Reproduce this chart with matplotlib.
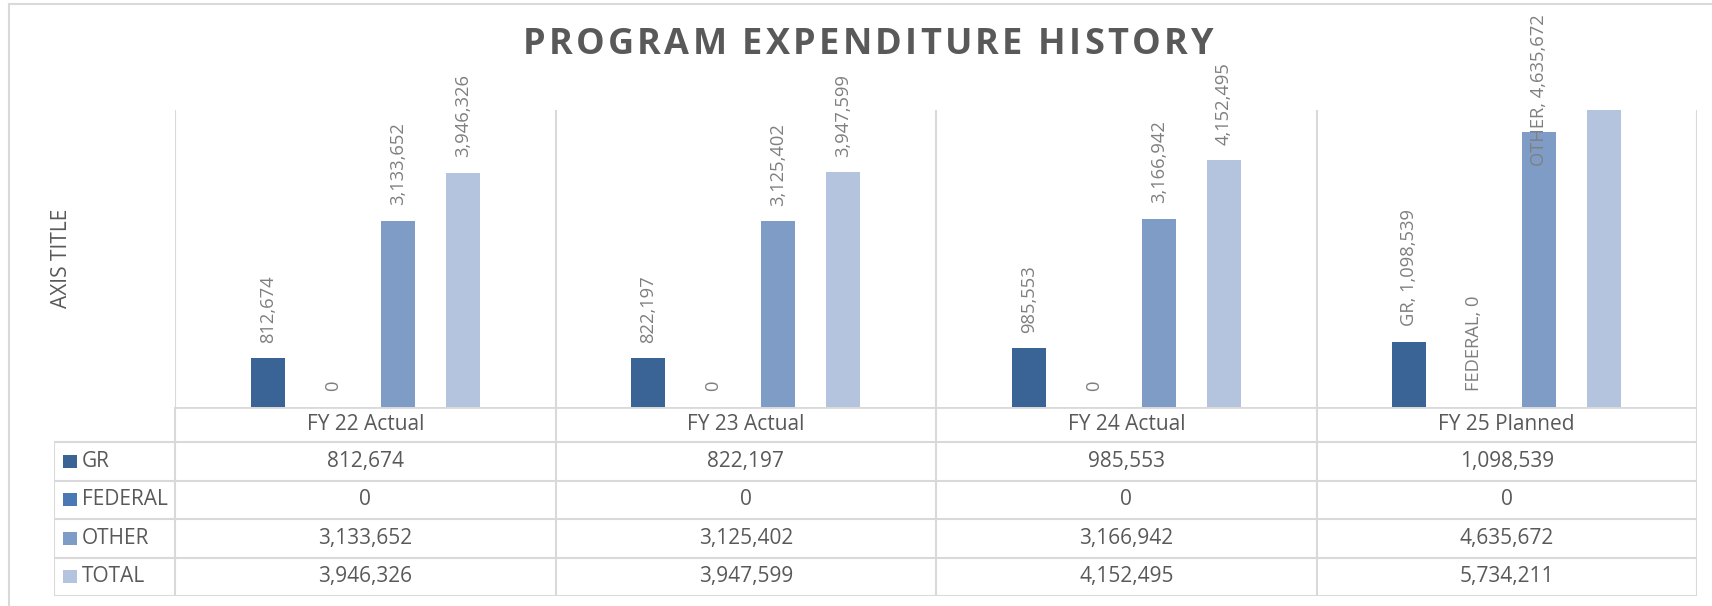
import matplotlib.pyplot as plt
from matplotlib.patches import Rectangle
from matplotlib import font_manager
import numpy as np

# Données du graphique
categories = ["FY 22 Actual", "FY 23 Actual", "FY 24 Actual", "FY 25 Planned"]
series_names = ["GR", "FEDERAL", "OTHER", "TOTAL"]
gr = [812674, 822197, 985553, 1098539]
federal = [0, 0, 0, 0]
other = [3133652, 3125402, 3166942, 4635672]
total = [3946326, 3947599, 4152495, 5734211]
y_max = 5000000
title = "PROGRAM EXPENDITURE HISTORY"

colors = ["#3b6496", "#4a78b4", "#7f9cc7", "#b4c3de"]
GRID = "#d9d9d9"
TXT = "#595959"
LBL = "#7f7f7f"

W, H = 1712, 606
fig = plt.figure(figsize=(W / 100, H / 100), dpi=100)
plt.rcParams['font.family'] = ['Open Sans', 'DejaVu Sans']

# Police étroite pour les textes verticaux si disponible
installed = {f.name for f in font_manager.fontManager.ttflist}
if "Liberation Sans Narrow" in installed:
    vfont = dict(family="Liberation Sans Narrow", fontsize=16.5)
    afont = dict(family="Liberation Sans Narrow", fontsize=17)
else:
    vfont = dict(family="Open Sans", fontsize=13.2)
    afont = dict(family="Open Sans", fontsize=15)

# Cadre extérieur (haut et gauche visibles)
fig.add_artist(plt.Line2D([9 / W, 9 / W], [0, 1 - 4 / H], color=GRID, lw=1.5))
fig.add_artist(plt.Line2D([9 / W, 1], [1 - 4 / H, 1 - 4 / H], color=GRID, lw=1.5))

# Zone du graphique
x0, x1 = 175, 1697
y_top, y_axis, y_bot = 110, 406.7, 596
ax = fig.add_axes([x0 / W, 1 - y_axis / H, (x1 - x0) / W, (y_axis - y_top) / H])
ax.set_xlim(-0.5, 3.5)
ax.set_ylim(0, y_max)
for s in ax.spines.values():
    s.set_visible(False)
ax.set_xticks([])
ax.set_yticks([])
for b in np.arange(-0.5, 4, 1):
    ax.axvline(b, color=GRID, lw=1.5, zorder=0)

series = [gr, federal, other, total]
offsets = [-0.256, -0.0855, 0.0855, 0.256]
bar_w = 0.09
x = np.arange(len(categories))
for vals, off, c in zip(series, offsets, colors):
    ax.bar(x + off, vals, width=bar_w, color=c, zorder=2)

# Étiquettes de données
for i in range(len(categories)):
    for j, vals in enumerate(series):
        v = vals[i]
        txt = "{:,}".format(v)
        if i == 3:
            if series_names[j] == "TOTAL":
                continue
            txt = series_names[j] + ", " + txt
        dy = 11
        if i == 3 and series_names[j] == "OTHER":
            dy = -25
        ax.annotate(txt, (x[i] + offsets[j], v), xytext=(0, dy), textcoords="offset points",
                    rotation=90, ha="center", va="bottom", color=LBL,
                    annotation_clip=False, zorder=3, **vfont)

# Titre avec espacement des lettres
r = fig.canvas.get_renderer()
def text_w(s):
    t = fig.text(0, 0, s, fontsize=26, fontweight="bold")
    w = t.get_window_extent(r).width
    t.remove()
    return w

widths = []
for ch in title:
    if ch == " ":
        widths.append(text_w("A A") - text_w("AA"))
    else:
        widths.append(text_w(ch))
t_left, t_right = 523, 1213
gap = (t_right - t_left - sum(widths)) / (len(title) - 1)
xc = t_left
for ch, w in zip(title, widths):
    fig.text(xc / W, 1 - 45 / H, ch, ha="left", va="center",
             fontsize=26, fontweight="bold", color=TXT)
    xc += w + gap

fig.text(62 / W, 1 - 258 / H, "AXIS TITLE", rotation=90, ha="center", va="center",
         color=TXT, **afont)

# Tableau de données
px = 1 / 380.5
leg_w = (x0 - 54) * px
tax = fig.add_axes([54 / W, 1 - y_bot / H, (x1 - 54) / W, (y_bot - y_axis) / H])
tax.set_xlim(-0.5 - leg_w, 3.5)
head = 0.92
nrows = len(series_names)
tax.set_ylim(head + nrows, 0)
tax.axis("off")

tax.plot([-0.5, 3.5], [0, 0], color=GRID, lw=2)
for k in range(nrows + 1):
    tax.plot([-0.5 - leg_w, 3.5], [head + k, head + k], color=GRID, lw=1.5)
for b in np.arange(-0.5, 4, 1):
    tax.plot([b, b], [0, head + nrows], color=GRID, lw=1.5)
tax.plot([-0.5 - leg_w, -0.5 - leg_w], [head, head + nrows], color=GRID, lw=1.5)

for i, cat in enumerate(categories):
    tax.text(i, head / 2, cat, ha="center", va="center", fontsize=15, color=TXT)

for k, (name, vals) in enumerate(zip(series_names, series)):
    yc = head + k + 0.5
    kx = -0.5 - leg_w + 9.3 * px
    tax.add_patch(Rectangle((kx, yc - 0.17), 13.4 * px, 0.34, color=colors[k], lw=0))
    tax.text(-0.5 - leg_w + 28 * px, yc, name, ha="left", va="center", fontsize=15, color=TXT)
    for i, v in enumerate(vals):
        tax.text(i, yc, "{:,}".format(v), ha="center", va="center", fontsize=15, color=TXT)

plt.savefig("out.png", dpi=100)
